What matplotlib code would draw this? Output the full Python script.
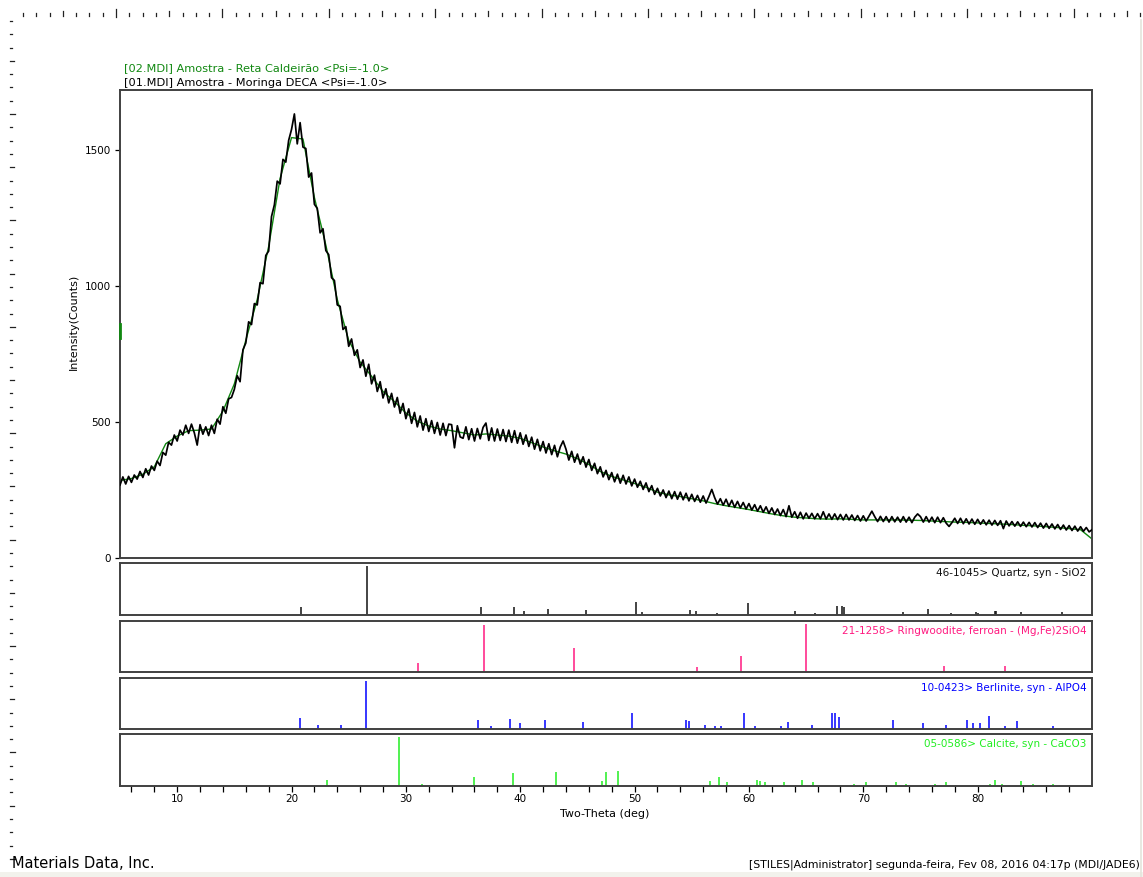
import numpy as np
import matplotlib
matplotlib.use("Agg")
import matplotlib.pyplot as plt

plt.rcParams['font.family'] = ['DejaVu Sans']

# %% Data
# measured pattern, 01.MDI (Moringa DECA), 2-theta step 0.25 deg from 5 to 90
tt_start, tt_step = 5.0, 0.25
counts_01 = [
    268, 298, 272, 300, 278, 305, 290, 318, 296, 328, 305, 338, 322, 356, 340, 388, 378, 425, 415, 452,
    430, 470, 452, 488, 458, 492, 460, 415, 490, 455, 482, 450, 488, 458, 510, 492, 556, 532, 585, 590,
    620, 670, 648, 765, 790, 868, 858, 935, 930, 1012, 1008, 1112, 1128, 1255, 1298, 1385, 1375, 1465, 1455, 1535,
    1575, 1632, 1522, 1600, 1510, 1505, 1400, 1415, 1300, 1285, 1195, 1210, 1130, 1115, 1030, 1020, 930, 925, 840, 850,
    778, 805, 745, 765, 700, 728, 668, 712, 640, 672, 612, 648, 588, 622, 570, 605, 555, 590, 532, 568,
    512, 548, 495, 535, 482, 522, 470, 512, 465, 505, 458, 498, 452, 495, 450, 492, 490, 405, 486, 445,
    440, 482, 435, 475, 430, 476, 438, 480, 496, 432, 478, 430, 474, 432, 472, 428, 470, 425, 468, 422,
    460, 418, 452, 410, 444, 400, 436, 394, 428, 386, 420, 380, 414, 372, 408, 430, 400, 360, 392, 352,
    382, 345, 372, 334, 362, 322, 348, 310, 335, 298, 322, 288, 314, 280, 308, 275, 304, 272, 298, 265,
    290, 260, 282, 252, 276, 244, 266, 234, 256, 228, 250, 222, 246, 218, 244, 216, 242, 214, 238, 210,
    234, 208, 230, 205, 228, 202, 226, 252, 222, 198, 218, 194, 216, 190, 212, 186, 208, 184, 204, 180,
    200, 176, 196, 172, 192, 168, 188, 164, 184, 160, 180, 156, 178, 152, 192, 150, 170, 146, 168, 144,
    165, 146, 164, 144, 163, 144, 170, 143, 162, 142, 162, 141, 160, 140, 160, 140, 158, 138, 156, 136,
    155, 136, 154, 172, 152, 134, 153, 134, 152, 132, 152, 133, 150, 132, 152, 132, 150, 130, 150, 162,
    152, 132, 152, 132, 150, 130, 150, 130, 148, 128, 116, 130, 146, 127, 146, 126, 144, 125, 143, 124,
    142, 124, 140, 122, 139, 121, 138, 120, 137, 108, 136, 118, 134, 117, 133, 116, 132, 115, 131, 114,
    130, 112, 128, 110, 127, 109, 125, 107, 123, 105, 121, 103, 119, 101, 117, 99, 115, 98, 112, 96,
    104,
]

# 02.MDI (Reta Caldeirao), mostly hidden under 01, 1 deg step from 5 to 90
counts_02 = [
    285, 292, 308, 335, 420, 448, 468, 470, 474, 540,
    640, 800, 950, 1145, 1395, 1545, 1540, 1325, 1150, 950,
    800, 720, 668, 612, 575, 533, 503, 485, 474, 468,
    460, 452, 456, 452, 448, 440, 424, 408, 394, 382,
    365, 344, 318, 300, 287, 274, 260, 242, 232, 226,
    218, 210, 200, 192, 185, 178, 170, 162, 155, 150,
    147, 144, 143, 144, 142, 140, 140, 140, 140, 139,
    138, 136, 134, 132, 131, 129, 127, 125, 123, 120,
    118, 115, 112, 108, 104, 70,
]
counts_02_edge = [810, 860]   # short green mark on the left edge

# reference cards (2-theta, relative intensity)
quartz_tt = [20.86, 26.64, 36.54, 39.47, 40.29, 42.45, 45.79, 50.14, 50.62, 54.87, 55.33, 57.24,
             59.96, 64.03, 65.79, 67.74, 68.14, 68.32, 73.47, 75.66, 77.67, 79.88, 80.04, 81.49, 81.6,
             83.83, 87.4]
quartz_i = [17, 100, 17, 17, 8, 13, 10, 27, 6, 10, 8, 5, 24, 8, 5, 19, 19, 17, 6, 12, 5, 7, 5, 8, 8,
            6, 6]

ring_tt = [31.1, 36.8, 44.7, 55.5, 59.3, 65.0, 77.1, 82.4]
ring_i = [19, 98, 50, 11, 34, 100, 13, 13]

berl_tt = [20.7, 22.3, 24.3, 26.5, 36.3, 37.4, 39.1, 40.0, 42.2, 45.5, 49.8, 54.5, 54.8, 56.2, 57.0,
           57.6, 59.6, 60.5, 62.8, 63.4, 65.5, 67.3, 67.5, 67.9, 72.6, 75.2, 77.2, 79.1, 79.6, 80.2,
           81.0, 82.4, 83.4, 86.6]
berl_i = [24, 8, 8, 100, 19, 6, 22, 13, 19, 15, 33, 19, 17, 8, 6, 6, 33, 6, 6, 15, 8, 33, 33, 25, 19,
          13, 8, 19, 13, 13, 27, 6, 17, 6]

calc_tt = [23.06, 29.41, 31.45, 35.97, 39.4, 43.16, 47.12, 47.5, 48.51, 56.57, 57.41, 58.1, 60.68,
           61.0, 61.4, 63.06, 64.68, 65.6, 69.2, 70.24, 72.9, 73.7, 76.3, 77.2, 81.1, 81.5, 82.1,
           83.8, 84.8, 86.6]
calc_i = [12, 100, 5, 19, 26, 28, 10, 28, 31, 10, 19, 8, 12, 10, 8, 8, 12, 8, 5, 8, 8, 5, 5, 8, 5,
          12, 4, 10, 4, 5]

card_labels = ["46-1045> Quartz, syn - SiO2",
               "21-1258> Ringwoodite, ferroan - (Mg,Fe)2SiO4",
               "10-0423> Berlinite, syn - AlPO4",
               "05-0586> Calcite, syn - CaCO3"]
card_colors = ['#111111', '#ff1a80', '#0000ff', '#22ee22']

y_ticks = [0, 500, 1000, 1500]
x_major = [10, 20, 30, 40, 50, 60, 70, 80]

# %% Figure
W, H = 1143, 877
fig = plt.figure(figsize=(W / 100, H / 100), dpi=100)

def box(l, t, r, b):
    return [l / W, 1 - b / H, (r - l) / W, (b - t) / H]

spine_col = '#404040'

# page ruler and frame decoration
bg = fig.add_axes([0, 0, 1, 1], zorder=-5)
bg.set_xlim(0, W)
bg.set_ylim(H, 0)
bg.axis('off')
for k in range(-7, 78):
    x = 116 + 13.3 * k
    if x > W - 2:
        break
    if k % 8 == 0:
        bg.plot([x, x], [9, 17], color='#222222', lw=0.9)
    elif k % 8 == 4:
        bg.plot([x, x], [11, 16], color='#222222', lw=0.9)
    else:
        bg.plot([x, x], [13, 15.5], color='#222222', lw=0.9)
for k in range(-7, 57):
    y = 114 + 13.3 * k
    if y > H - 6:
        break
    if k % 8 == 0:
        bg.plot([10, 15], [y, y], color='#222222', lw=0.9)
    elif k % 8 == 4:
        bg.plot([10, 14], [y, y], color='#222222', lw=0.9)
    else:
        bg.plot([10, 12], [y, y], color='#222222', lw=0.9)
bg.plot([1141, 1141], [20, H], color='#e4e4dc', lw=1.2)
bg.fill_between([0, W], [872, 872], [H, H], color='#f2f2ec', lw=0)

# %% Main pattern
ax = fig.add_axes(box(120, 90, 1092, 558))
tt01 = tt_start + tt_step * np.arange(len(counts_01))
tt02 = 5.0 + 1.0 * np.arange(len(counts_02))
ax.plot(tt02, counts_02, color='#118811', lw=1.0, zorder=2)
ax.plot([5.0, 5.0], counts_02_edge, color='#118811', lw=2.0, zorder=6, clip_on=False)
ax.plot(tt01, counts_01, color='black', lw=1.25, zorder=3)
ax.set_xlim(5, 90)
ax.set_ylim(0, 1720)
ax.set_yticks(y_ticks)
ax.set_yticklabels([str(v) for v in y_ticks], fontsize=7.5)
ax.set_xticks([])
ax.tick_params(axis='y', direction='out', length=3.5, width=0.9, pad=3, colors='black')
for s in ax.spines.values():
    s.set_color(spine_col)
    s.set_linewidth(1.4)

# %% Reference stick panels
panels = [(563, 615), (621, 672), (678, 729), (734, 786)]
cards = [(quartz_tt, quartz_i), (ring_tt, ring_i), (berl_tt, berl_i), (calc_tt, calc_i)]
for (top, bot), (ctt, ci), lab, col in zip(panels, cards, card_labels, card_colors):
    pax = fig.add_axes(box(120, top, 1092, bot))
    pax.vlines(ctt, 0, ci, colors=col, lw=1.1)
    pax.set_xlim(5, 90)
    pax.set_ylim(0, 107)
    pax.set_yticks([])
    pax.text(0.994, 0.80, lab, transform=pax.transAxes, ha='right', va='center',
             color=col, fontsize=7.5)
    for s in pax.spines.values():
        s.set_color(spine_col)
        s.set_linewidth(1.4)
    if bot == 786:
        pax.set_xticks(x_major)
        pax.set_xticklabels([str(v) for v in x_major], fontsize=7.5)
        pax.set_xticks(np.arange(6, 90, 2), minor=True)
        pax.tick_params(axis='x', which='both', direction='out', length=4, width=0.9, pad=2)
    else:
        pax.set_xticks([])

# %% Texts
fig.text(124 / W, 1 - 68 / H, "[02.MDI] Amostra - Reta Caldeirão <Psi=-1.0>",
         color='#118811', fontsize=8.2, va='center', ha='left')
fig.text(124 / W, 1 - 83 / H, "[01.MDI] Amostra - Moringa DECA <Psi=-1.0>",
         color='black', fontsize=8.2, va='center', ha='left')
fig.text(74 / W, 1 - 322 / H, "Intensity(Counts)", rotation=90, fontsize=8,
         ha='center', va='center')
fig.text(605 / W, 1 - 814 / H, "Two-Theta (deg)", fontsize=8, ha='center', va='center')
fig.text(12 / W, 1 - 864 / H, "Materials Data, Inc.", fontsize=10.5, ha='left', va='center')
fig.text(1140 / W, 1 - 865 / H,
         "[STILES|Administrator] segunda-feira, Fev 08, 2016 04:17p (MDI/JADE6)",
         fontsize=7.8, ha='right', va='center')

fig.savefig("out.png", dpi=100)
